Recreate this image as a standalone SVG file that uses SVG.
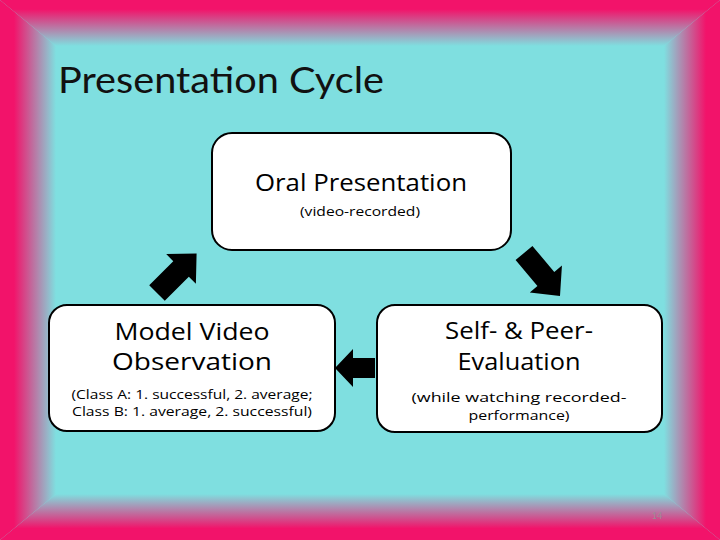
<svg xmlns="http://www.w3.org/2000/svg" width="720" height="540" viewBox="0 0 720 540">
  <defs>
    <linearGradient id="gL" gradientUnits="userSpaceOnUse" x1="0" y1="0" x2="56" y2="0">
      <stop offset="0.25" stop-color="#f2136a"/>
      <stop offset="1" stop-color="#7fdfe0"/>
    </linearGradient>
    <linearGradient id="gR" gradientUnits="userSpaceOnUse" x1="720" y1="0" x2="664" y2="0">
      <stop offset="0.25" stop-color="#f2136a"/>
      <stop offset="1" stop-color="#7fdfe0"/>
    </linearGradient>
    <linearGradient id="gT" gradientUnits="userSpaceOnUse" x1="0" y1="0" x2="0" y2="46">
      <stop offset="0.2" stop-color="#f2136a"/>
      <stop offset="1" stop-color="#7fdfe0"/>
    </linearGradient>
    <linearGradient id="gB" gradientUnits="userSpaceOnUse" x1="0" y1="540" x2="0" y2="494">
      <stop offset="0.25" stop-color="#f2136a"/>
      <stop offset="1" stop-color="#7fdfe0"/>
    </linearGradient>
  </defs>
  <style>
    .box { fill: #ffffff; stroke: #000000; stroke-width: 2; }
    .arrow { fill: #000000; }
    .t { font-family: "Open Sans", "Liberation Sans", sans-serif; fill: #000000; text-anchor: middle; }
    .big { font-size: 23px; }
    .small { font-size: 13.5px; }
    .title { font-family: Lato, "Liberation Sans", sans-serif; font-size: 37px; fill: #111111; }
  </style>

  <!-- background frame -->
  <rect x="0" y="0" width="720" height="540" fill="#7fdfe0"/>
  <polygon points="0,0 56,46 56,494 0,540" fill="url(#gL)"/>
  <polygon points="720,0 664,46 664,494 720,540" fill="url(#gR)"/>
  <polygon points="0,0 720,0 664,46 56,46" fill="url(#gT)"/>
  <polygon points="0,540 720,540 664,494 56,494" fill="url(#gB)"/>

  <text class="title" x="58" y="93" textLength="326" lengthAdjust="spacingAndGlyphs">Presentation Cycle</text>

  <g id="connectors">
    <!-- arrow up-right (Model Video -> Oral) -->
    <polygon class="arrow" points="0,-11 34,-11 34,-21 56,0 34,21 34,11 0,11" transform="translate(157,293) rotate(-45)"/>
    <!-- arrow down-right (Oral -> Self/Peer) -->
    <polygon class="arrow" points="0,-11 34,-11 34,-21 56,0 34,21 34,11 0,11" transform="translate(524,253) rotate(50)"/>
    <!-- arrow left (Self/Peer -> Model Video) -->
    <polygon class="arrow" points="375,358 353,358 353,349 335,368 353,387 353,378 375,378"/>
  </g>

  <g id="node-oral">
    <rect class="box" x="212" y="133" width="299" height="117" rx="20" ry="20"/>
    <text class="t big" x="361" y="191" textLength="212" lengthAdjust="spacingAndGlyphs">Oral Presentation</text>
    <text class="t small" x="360" y="216" textLength="120" lengthAdjust="spacingAndGlyphs">(video-recorded)</text>
  </g>

  <g id="node-model">
    <rect class="box" x="49" y="305" width="286" height="126" rx="18" ry="18"/>
    <text class="t big" x="192" y="340" textLength="155" lengthAdjust="spacingAndGlyphs">Model Video</text>
    <text class="t big" x="192" y="370" textLength="160" lengthAdjust="spacingAndGlyphs">Observation</text>
    <text class="t small" x="192" y="399" textLength="241" lengthAdjust="spacingAndGlyphs">(Class A: 1. successful, 2. average;</text>
    <text class="t small" x="192" y="416" textLength="240" lengthAdjust="spacingAndGlyphs">Class B: 1. average, 2. successful)</text>
  </g>

  <g id="node-eval">
    <rect class="box" x="377" y="305" width="285" height="127" rx="18" ry="18"/>
    <text class="t big" x="519" y="339" textLength="148" lengthAdjust="spacingAndGlyphs">Self- &amp; Peer-</text>
    <text class="t big" x="519" y="370" textLength="123" lengthAdjust="spacingAndGlyphs">Evaluation</text>
    <text class="t small" x="519" y="402" textLength="215" lengthAdjust="spacingAndGlyphs">(while watching recorded-</text>
    <text class="t small" x="519" y="420" textLength="101" lengthAdjust="spacingAndGlyphs">performance)</text>
  </g>

  <text x="657" y="519" font-family="Lato, 'Liberation Sans', sans-serif" font-size="9" fill="#9a8a95" text-anchor="middle">14</text>
</svg>
